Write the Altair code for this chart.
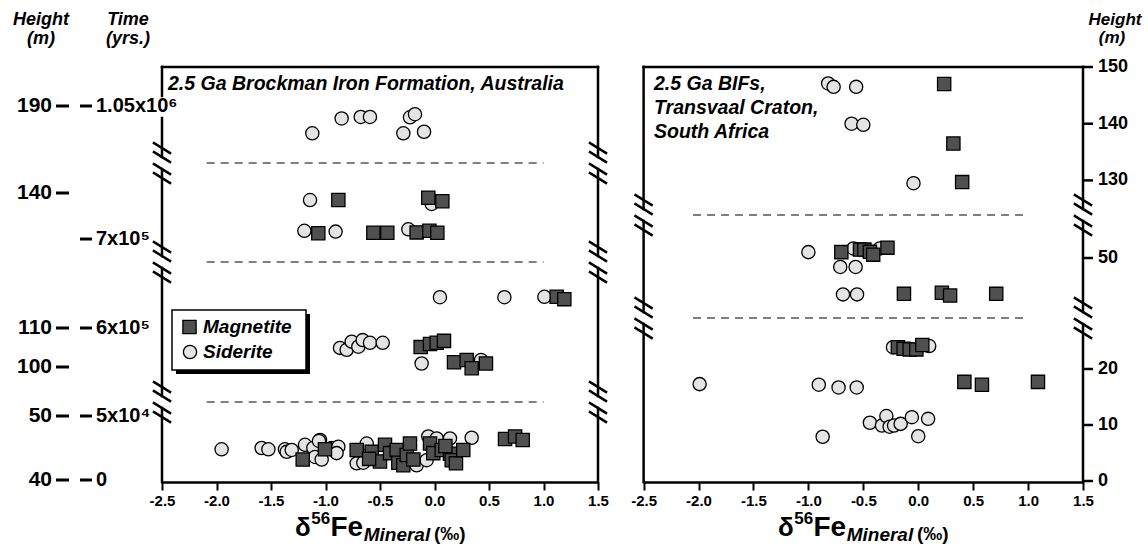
import altair as alt
import pandas as pd

# ---------------- data ----------------
# Left panel: 2.5 Ga Brockman Iron Formation (delta56Fe in permil, stratigraphic height in m)
brock_mag_d56 = [-0.882, -0.057, 0.072, -1.066, -0.561, -0.433, -0.164, -0.047, 0.026,
                 1.121, 1.191, -0.127, -0.041, 0.020, 0.087, 0.179, 0.295, 0.341, 0.472,
                 -1.209, -1.005, -0.714, -0.576, -0.500, -0.454, -0.408, -0.347, -0.332, -0.286,
                 -0.255, -0.225, -0.194, -0.041, -0.011, 0.066, 0.142, 0.158, 0.197, 0.264,
                 0.647, 0.739, 0.809, -0.600, 0.100]
brock_mag_h = [138.2, 138.8, 137.9, 129.7, 129.8, 129.8, 129.9, 130.3, 129.8,
               118.0, 117.4, 105.1, 105.9, 106.2, 106.7, 101.2, 101.8, 99.7, 100.9,
               43.2, 44.8, 44.7, 44.4, 42.9, 45.5, 44.2, 44.7, 42.7, 42.3,
               43.9, 45.7, 43.2, 45.7, 44.2, 44.7, 44.1, 43.1, 42.6, 44.7,
               46.4, 46.8, 46.25, 43.3, 45.3]
brock_sid_d56 = [-0.852, -0.677, -0.592, -0.225, -0.179, -1.121, -0.286, -0.096,
                 -1.142, -0.026, -1.194, -0.907, -0.240,
                 0.050, 0.641, 1.008, -0.867, -0.806, -0.760, -0.699, -0.659, -0.592, -0.475,
                 -0.118, 0.427,
                 -1.953, -1.586, -1.524, -1.372, -1.356, -1.310, -1.188, -1.112, -1.050, -1.096,
                 -1.035, -0.943, -0.882, -0.898, -0.714, -0.653, -0.622, -0.164, -0.072, -0.057,
                 0.020, 0.142, 0.341, -1.060]
brock_sid_h = [186.8, 187.2, 187.2, 187.1, 187.9, 183.0, 183.0, 183.4,
               138.2, 137.2, 130.3, 130.1, 130.7,
               117.9, 117.9, 118.0, 104.9, 104.4, 106.5, 105.2, 106.9, 106.2, 106.2,
               100.9, 101.8,
               44.8, 45.0, 44.8, 44.8, 44.4, 44.7, 45.5, 45.0, 46.25, 43.6,
               43.2, 45.0, 45.2, 44.2, 42.6, 42.7, 45.7, 42.3, 43.1, 46.8,
               46.5, 46.5, 46.6, 46.1]

# Right panel: 2.5 Ga BIFs, Transvaal Craton
tv_mag_d56 = [0.236, 0.32, 0.40,
              -0.70, -0.53, -0.49, -0.44, -0.41, -0.28, -0.13, 0.215, 0.29, 0.71,
              -0.185, -0.133, -0.078, -0.017, 0.037, 0.42, 0.58, 1.09]
tv_mag_h = [147.0, 136.5, 129.7,
            51.05, 51.5, 51.5, 51.1, 50.6, 51.85, 43.6, 43.8, 43.3, 43.6,
            23.9, 23.6, 23.5, 23.5, 24.3, 17.7, 17.2, 17.7]
tv_sid_d56 = [-0.82, -0.77, -0.565, -0.607, -0.50, -0.043,
              -1.00, -0.59, -0.35, -0.71, -0.57, -0.685, -0.557,
              -0.23, 0.10, -1.99, -0.905, -0.725, -0.56, -0.87, -0.44, -0.33, -0.29,
              -0.26, -0.22, -0.16, -0.058, 0.0, 0.09]
tv_sid_h = [147.1, 146.5, 146.5, 140.0, 139.8, 129.5,
            51.05, 51.7, 51.7, 48.4, 48.4, 43.5, 43.5,
            23.9, 24.1, 17.3, 17.2, 16.7, 16.7, 7.9, 10.4, 9.9, 11.6,
            9.7, 9.9, 10.2, 11.4, 8.0, 11.1]

x_ticks = [-2.5, -2.0, -1.5, -1.0, -0.5, 0.0, 0.5, 1.0, 1.5]
brock_height_ticks = [190, 140, 110, 100, 50, 40]
brock_time_labels = ["1.05x10\u2076", "7x10\u2075", "6x10\u2075", "5x10\u2074", "0"]
brock_time_at_height = [190, 128.2, 110, 50, 40]
tv_height_ticks = [150, 140, 130, 50, 20, 10, 0]

# ---------------- broken-axis geometry ----------------
W, H = 921, 415
XL = alt.Scale(domain=[-2.5, 1.5], range=[0, 436], nice=False, zero=False)
XR = alt.Scale(domain=[-2.5, 1.5], range=[481.6, 921], nice=False, zero=False)
YS = alt.Scale(domain=[0, H], nice=False, zero=False)

# (h_min, h_max, anchor height, anchor position, px per m)
L_SEG = [(30, 70, 40, 2, 6.4), (70, 125, 100, 115, 3.9),
         (125, 165, 140, 289, 3.9), (165, 230, 190, 376, 3.9)]
R_SEG = [(-10, 30, 0, 1, 5.6), (30, 100, 50, 224, 5.6), (100, 200, 130, 301.6, 5.67)]
L_BREAKS = [80, 220, 319]
R_BREAKS = [164, 267]


def to_pos(h, segs):
    for lo, hi, ah, ap, k in segs:
        if lo <= h < hi:
            return ap + (h - ah) * k
    raise ValueError(h)


def pts(xs, hs, segs):
    return pd.DataFrame({"x": xs, "p": [to_pos(h, segs) for h in hs]})


FONT = "Liberation Sans"
ONE = pd.DataFrame({"k": [0]})
layers = []


def label(text, x, y, size, style="normal", weight="bold", align="left", baseline="alphabetic"):
    return alt.Chart(ONE).mark_text(text=text, font=FONT, fontSize=size, fontStyle=style,
                                    fontWeight=weight, align=align, baseline=baseline,
                                    color="black").encode(x=alt.value(x), y=alt.value(y))


def xaxis():
    return alt.Axis(values=x_ticks, orient="bottom", title=None, grid=False,
                    labelExpr="(datum.value < 0 ? '-' : '') + format(abs(datum.value), '.1f')",
                    domainColor="black", domainWidth=2.5, tickColor="black", tickWidth=2,
                    tickSize=8, labelFont=FONT, labelFontWeight="bold", labelFontSize=15,
                    labelColor="black", labelPadding=3, labelFlush=False, labelOverlap=False)


def vpieces(breaks, gaps=()):
    cuts = sorted([(c - 6, c + 6) for c in breaks] + list(gaps))
    segs, start = [], 0
    for a, b in cuts:
        segs.append((start, a))
        start = b
    segs.append((start, H))
    return segs


def frame(xscale, breaks, left_gaps=()):
    # vertical lines at both panel edges with axis-break strokes, plus top border
    rows = []
    for xc, gaps in ((-2.5, left_gaps), (1.5, ())):
        for a, b in vpieces(breaks, gaps):
            rows.append(dict(x=xc, x2=xc, p=a, p2=b))
    dx = 8 / 109.0
    for xc in (-2.5, 1.5):
        for c in breaks:
            for off in (-15, -6, 6, 15):
                rows.append(dict(x=xc - dx, x2=xc + dx, p=c + off + 5, p2=c + off - 5))
    rows.append(dict(x=-2.5, x2=1.5, p=H, p2=H))
    df = pd.DataFrame(rows)
    return alt.Chart(df).mark_rule(color="black", strokeWidth=2.5, strokeCap="square").encode(
        x=alt.X("x:Q", scale=xscale, axis=None), x2="x2:Q",
        y=alt.Y("p:Q", scale=YS, axis=None), y2="p2:Q")


def dashed(xscale, breaks, x0, x1):
    df = pd.DataFrame({"x": [x0] * len(breaks), "x2": [x1] * len(breaks), "p": breaks})
    return alt.Chart(df).mark_rule(color="#555555", strokeWidth=1.6, strokeDash=[8, 6]).encode(
        x=alt.X("x:Q", scale=xscale, axis=None), x2="x2:Q",
        y=alt.Y("p:Q", scale=YS, axis=None))


SIZE = 175


def circles(df, xscale, axis=None):
    return alt.Chart(df).mark_point(shape="circle", filled=True, size=SIZE, fill="#e4e4e4",
                                    stroke="black", strokeWidth=1.3, opacity=1).encode(
        x=alt.X("x:Q", scale=xscale, axis=axis), y=alt.Y("p:Q", scale=YS, axis=None))


def squares(df, xscale, axis=None):
    return alt.Chart(df).mark_point(shape="square", filled=True, size=SIZE, fill="#505050",
                                    stroke="black", strokeWidth=1.3, opacity=1).encode(
        x=alt.X("x:Q", scale=xscale, axis=axis), y=alt.Y("p:Q", scale=YS, axis=None))


# ---- panels ----
layers.append(frame(XL, L_BREAKS, left_gaps=[(364, 386)]))
layers.append(dashed(XL, L_BREAKS, -2.09, 1.0))
layers.append(circles(pts(brock_sid_d56, brock_sid_h, L_SEG), XL, xaxis()))
layers.append(squares(pts(brock_mag_d56, brock_mag_h, L_SEG), XL))

layers.append(frame(XR, R_BREAKS))
layers.append(dashed(XR, R_BREAKS, -2.05, 1.0))
layers.append(circles(pts(tv_sid_d56, tv_sid_h, R_SEG), XR, xaxis()))
layers.append(squares(pts(tv_mag_d56, tv_mag_h, R_SEG), XR))

# ---- y tick labels (height and time) ----
lh = pd.DataFrame({"p": [to_pos(h, L_SEG) for h in brock_height_ticks],
                   "lab": [str(v) for v in brock_height_ticks]})
lt = pd.DataFrame({"p": [to_pos(h, L_SEG) for h in brock_time_at_height],
                   "lab": brock_time_labels})
rh = pd.DataFrame({"p": [to_pos(h, R_SEG) for h in tv_height_ticks],
                   "lab": [str(v) for v in tv_height_ticks]})


def ticks(df, x0, x1, w=3):
    return alt.Chart(df).mark_rule(color="black", strokeWidth=w).encode(
        x=alt.value(x0), x2=alt.value(x1), y=alt.Y("p:Q", scale=YS, axis=None))


def ticklabels(df, x, align, size):
    return alt.Chart(df).mark_text(font=FONT, fontSize=size, fontWeight="bold", align=align,
                                   baseline="middle", color="black").encode(
        x=alt.value(x), y=alt.Y("p:Q", scale=YS, axis=None), text="lab:N")


layers += [ticks(lh, -106, -93), ticklabels(lh, -110, "right", 21),
           ticks(lt, -82, -70), ticklabels(lt, -66, "left", 20),
           ticks(rh, 921, 931, 2.5), ticklabels(rh, 936, "left", 18)]

# ---- headers ----
layers += [label("Height", -121, -47, 18, "italic", align="center", baseline="middle"),
           label("(m)", -121, -28, 18, "italic", align="center", baseline="middle"),
           label("Time", -34, -47, 18, "italic", align="center", baseline="middle"),
           label("(yrs.)", -34, -28, 18, "italic", align="center", baseline="middle"),
           label("Height", 953, -47, 17, "italic", align="center", baseline="middle"),
           label("(m)", 950, -29, 17, "italic", align="center", baseline="middle")]

# ---- panel titles ----
layers += [label("2.5 Ga Brockman Iron Formation, Australia", 6, 23, 19.5, "italic"),
           label("2.5 Ga BIFs,", 492, 23, 19.5, "italic"),
           label("Transvaal Craton,", 492, 47, 19.5, "italic"),
           label("South Africa", 492, 71, 19.5, "italic")]

# ---- x axis titles: delta56Fe_Mineral (permil) ----
for cx in (218, 701):
    s = cx - 85
    layers += [label("\u03b4", s, 469, 26),
               label("56", s + 16.3, 457, 17),
               label("Fe", s + 35.5, 469, 28),
               label("Mineral", s + 68.7, 474, 19, "italic"),
               label("(\u2030)", s + 139, 473, 19)]

# ---- legend ----
box = pd.DataFrame({"k": [0]})
layers.append(alt.Chart(box).mark_rect(fill="black").encode(
    x=alt.value(14), x2=alt.value(148), y=alt.value(247), y2=alt.value(307)))
layers.append(alt.Chart(box).mark_rect(fill="white", stroke="black", strokeWidth=1.5).encode(
    x=alt.value(10), x2=alt.value(144), y=alt.value(243), y2=alt.value(303)))
layers.append(alt.Chart(box).mark_point(shape="square", filled=True, size=SIZE, fill="#505050",
                                        stroke="black", strokeWidth=1.3, opacity=1).encode(
    x=alt.value(27.5), y=alt.value(260)))
layers.append(alt.Chart(box).mark_point(shape="circle", filled=True, size=SIZE, fill="#e4e4e4",
                                        stroke="black", strokeWidth=1.3, opacity=1).encode(
    x=alt.value(28), y=alt.value(285)))
layers += [label("Magnetite", 41, 260, 19, "italic", baseline="middle"),
           label("Siderite", 41, 285, 19, "italic", baseline="middle")]

chart = alt.layer(*layers).resolve_scale(x="independent").properties(
    width=W, height=H,
    autosize=alt.AutoSizeParams(type="none"),
    padding={"left": 162, "top": 67, "right": 65, "bottom": 67},
).configure_view(strokeWidth=0)

chart.save("out.html", embed_options={"renderer": "svg", "actions": False})
